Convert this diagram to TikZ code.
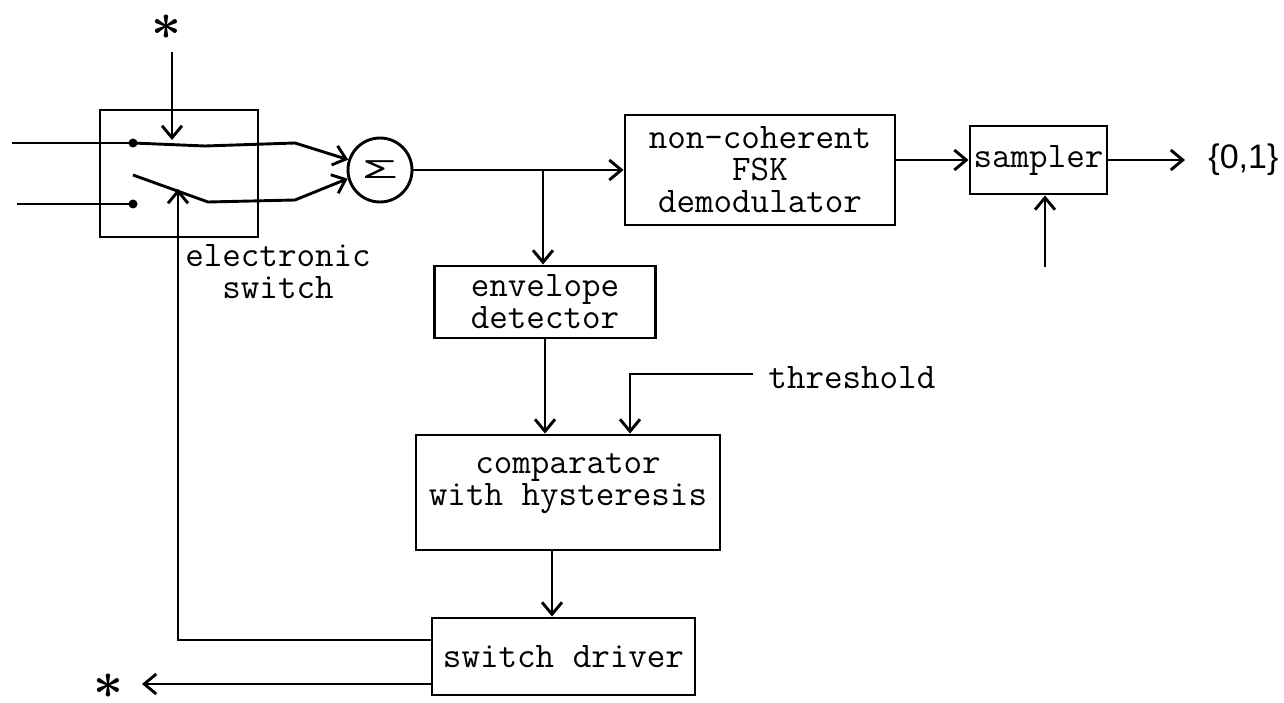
\documentclass[tikz,border=0pt]{standalone}
\usepackage{fontspec}
\newfontfamily\sansf{Liberation Sans}
\usetikzlibrary{arrows.meta,calc}
\newcommand{\starglyph}{\scalebox{5.2}{\boldmath$\ast$}}
\begin{document}
\begin{tikzpicture}[x=1pt,y=-1pt, line width=2.9pt,
  >={Straight Barb[length=12pt,width=20pt]},
  box/.style={draw, rectangle, inner sep=0pt, font=\ttfamily\fontsize{36}{32}\selectfont, align=center},
  lbl/.style={font=\ttfamily\fontsize{36}{32}\selectfont, align=center, inner sep=0pt},
  dot/.style={circle, fill, inner sep=0pt, minimum size=9pt},
  starmark/.style={inner sep=0pt}]
\useasboundingbox (0,0) rectangle (1284,703);
% nodes
\node[box, minimum width=158pt, minimum height=127pt] (sw) at (179,173.5) {};
\node[lbl] (swl) at (278,272) {electronic\\switch};
\node[dot] (c1) at (133,143) {};
\node[dot] (c2) at (133,204) {};
\node[draw, circle, minimum size=64pt, inner sep=0pt] (sig) at (380,170) {\scalebox{1.6}[0.72]{\sansf\fontsize{36}{36}\selectfont Σ}};
\node[box, minimum width=270pt, minimum height=110pt] (nc) at (760,170) {non-coherent\\FSK\\demodulator};
\node[box, minimum width=137pt, minimum height=68pt] (smp) at (1038.5,160) {sampler};
\node[font=\sansf\fontsize{34}{34}\selectfont, inner sep=0pt, anchor=west] (out) at (1207,160) {\{0,1\}};
\node[box, minimum width=221pt, minimum height=72pt] (env) at (545,302) {envelope\\detector};
\node[lbl, anchor=west] (thr) at (767,378) {threshold};
\node[box, minimum width=304pt, minimum height=115pt] (cmp) at (568,492.5) {};
\node[lbl] (cmpl) at (568,484) {comparator\\with hysteresis};
\node[box, minimum width=263pt, minimum height=77pt] (drv) at (563.5,656.5) {switch driver};
\node[starmark] (st1) at (166,27) {\starglyph};
\node[starmark] (st2) at (108,686) {\starglyph};
% coordinates
\coordinate (in1) at (12,143);
\coordinate (in2) at (17,204);
\coordinate (b1) at (205,146);
\coordinate (b1e) at (295,143);
\coordinate (b2s) at (133,175);
\coordinate (b2) at (208,202);
\coordinate (b2e) at (295,200);
\coordinate (ts) at (172,52);
\coordinate (tt) at (172,140);
\coordinate (br) at (543,170);
\coordinate (clk) at (1045,267);
\coordinate (thrs) at (753,374);
\coordinate (thrd) at (630,374);
\coordinate (fb) at (178,640);
\coordinate (fbt) at (178,189);
\coordinate (s2t) at (142,684);
% connectors
\draw (in1) -- (c1.center);
\draw (in2) -- (c2.center);
\draw[->] (c1.center) -- (b1) -- (b1e) -- (sig.162);
\draw[->] (b2s) -- (b2) -- (b2e) -- (sig.195);
\draw[->] (ts) -- (tt);
\draw[->] (sig.east) -- (nc.west);
\draw[->] (br) -- (br |- env.north);
\draw[->] (nc.east |- smp.west) -- (smp.west);
\draw[->] (smp.east) -- ([xshift=-22pt]out.west);
\draw[->] (clk) -- (clk |- smp.south);
\draw[->] (env.south) -- (env.south |- cmp.north);
\draw[->] (thrs) -- (thrd) -- (thrd |- cmp.north);
\draw[->] ([xshift=-16pt]cmp.south) -- ([xshift=-16pt]cmp.south |- drv.north);
\draw[->] (drv.west |- fb) -- (fb) -- (fbt);
\draw[->] (drv.west |- s2t) -- (s2t);
\end{tikzpicture}
\end{document}
